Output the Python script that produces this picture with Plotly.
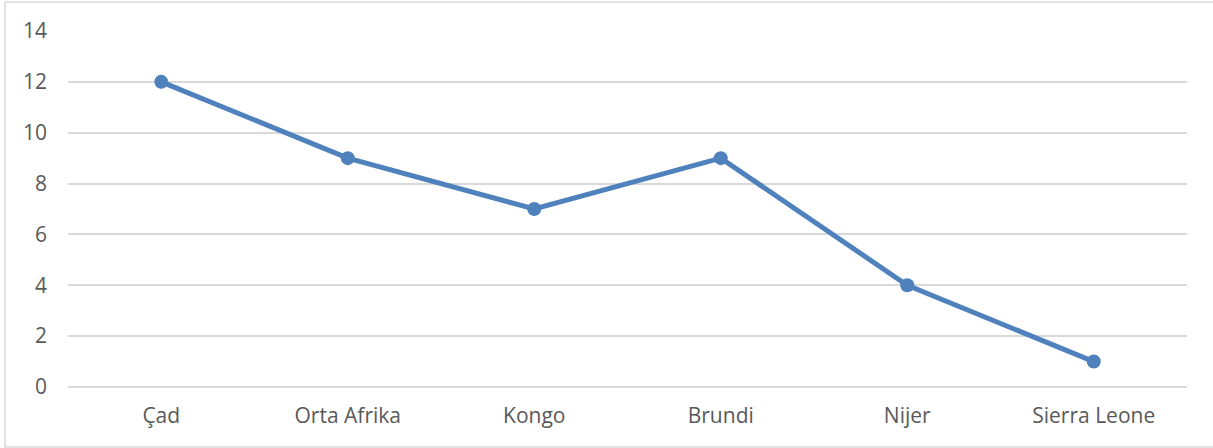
import plotly.graph_objects as go

countries = ["Çad", "Orta Afrika", "Kongo", "Brundi", "Nijer", "Sierra Leone"]
values = [12, 9, 7, 9, 4, 1]
y_ticks = [0, 2, 4, 6, 8, 10, 12, 14]

W, H = 1213, 448
L, R, T, B = 68, 26, 31, 61
pw, ph = W - L - R, H - T - B

fig = go.Figure(
    go.Scatter(
        x=countries,
        y=values,
        mode="lines+markers",
        line=dict(color="#4F81BD", width=5),
        marker=dict(color="#4F81BD", size=14),
        cliponaxis=False,
    )
)

# light frame around the whole chart area
fig.add_shape(
    type="rect",
    xref="paper", yref="paper",
    x0=(5 - L) / pw, x1=(W + 5 - L) / pw,
    y0=(H - 447 - B) / ph, y1=(H - 2 - B) / ph,
    line=dict(color="#D9D9D9", width=1.5),
    fillcolor="rgba(0,0,0,0)",
    layer="below",
)

fig.update_layout(
    width=W, height=H,
    margin=dict(l=L, r=R, t=T, b=B),
    paper_bgcolor="white",
    plot_bgcolor="white",
    showlegend=False,
    font=dict(family="'Open Sans', sans-serif", size=21, color="#595959"),
)
fig.update_xaxes(
    type="category",
    range=[-0.5, len(countries) - 0.5],
    showgrid=False,
    showline=False,
    zeroline=False,
    ticks="",
    ticklabelstandoff=14,
)
fig.update_yaxes(
    range=[0, 14],
    tickvals=y_ticks,
    showgrid=True,
    gridcolor="#D9D9D9",
    gridwidth=1.5,
    zeroline=True,
    zerolinecolor="#D9D9D9",
    zerolinewidth=1.5,
    ticks="",
    ticklabelstandoff=20,
)

fig.write_html("out.html")
